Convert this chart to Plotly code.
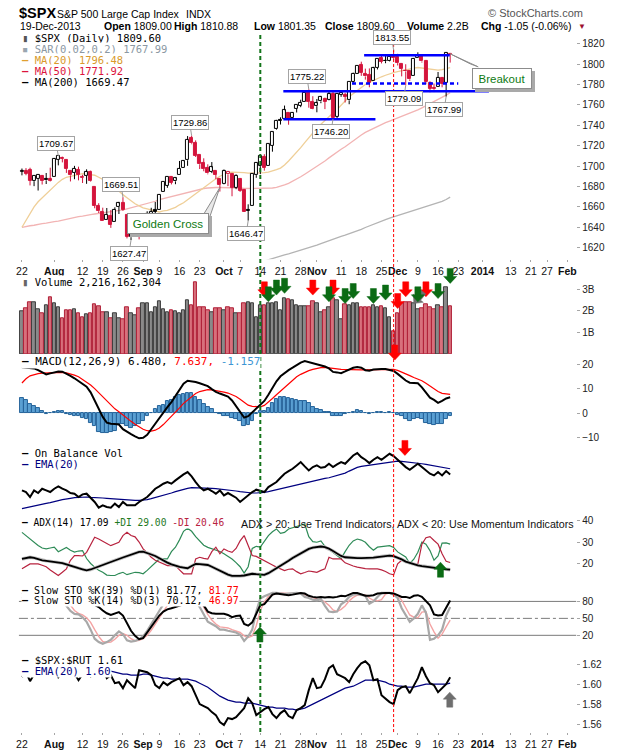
import math
import pandas as pd
import plotly.graph_objects as go

# ---------------------------------------------------------------------------
# Data ($SPX daily, 22-Jul-2013 .. 19-Dec-2013)
# ---------------------------------------------------------------------------
prev_close = 1692.1   # close of the day before the first bar

opens = [1694.4, 1695.5, 1696.1, 1685.2, 1687.3, 1690.3, 1687.3, 1687.8, 1689.4, 1706.1,
         1708.0, 1705.8, 1695.3, 1693.4, 1696.1, 1688.4, 1690.7, 1693.9, 1679.6, 1661.2,
         1655.3, 1646.8, 1650.7, 1645.0, 1659.9, 1664.3, 1652.5, 1630.3, 1633.5, 1638.9,
         1635.9, 1638.7, 1653.3, 1657.4, 1656.9, 1675.1, 1681.0, 1689.2, 1685.0, 1691.7,
         1697.7, 1705.7, 1727.3, 1722.4, 1711.4, 1702.6, 1698.0, 1694.1, 1695.5, 1687.3,
         1682.4, 1691.9, 1692.4, 1678.8, 1687.2, 1676.2, 1657.0, 1660.9, 1691.1, 1699.9,
         1709.2, 1700.5, 1720.2, 1736.7, 1745.2, 1746.5, 1752.3, 1747.5, 1756.0, 1759.4,
         1762.4, 1772.3, 1763.2, 1758.7, 1763.4, 1765.7, 1765.0, 1770.7, 1748.4, 1770.0,
         1769.5, 1764.4, 1782.8, 1790.7, 1798.8, 1790.8, 1789.6, 1783.5, 1796.2, 1806.3,
         1802.9, 1803.5, 1808.0, 1806.6, 1800.1, 1793.2, 1792.8, 1788.4, 1806.2, 1807.5,
         1802.8, 1781.7, 1777.0, 1777.5, 1786.5, 1781.5, 1809.0]
highs = [1697.6, 1698.0, 1698.4, 1690.9, 1691.9, 1690.9, 1693.2, 1698.4, 1707.9, 1709.7,
         1709.2, 1705.8, 1695.3, 1700.2, 1699.4, 1691.5, 1696.8, 1695.5, 1679.6, 1663.6,
         1659.2, 1658.9, 1656.9, 1659.6, 1664.9, 1669.5, 1652.5, 1641.2, 1646.4, 1640.1,
         1651.4, 1655.7, 1659.1, 1664.8, 1672.4, 1684.1, 1689.1, 1690.0, 1688.7, 1705.0,
         1705.5, 1729.4, 1729.9, 1725.2, 1711.4, 1707.6, 1701.7, 1703.9, 1695.5, 1687.3,
         1696.6, 1693.9, 1692.4, 1691.9, 1687.2, 1676.8, 1662.5, 1692.6, 1703.4, 1711.0,
         1711.6, 1721.8, 1733.4, 1745.3, 1747.8, 1759.3, 1752.3, 1753.0, 1759.8, 1765.0,
         1772.1, 1775.2, 1768.5, 1765.7, 1768.8, 1767.0, 1773.7, 1774.5, 1770.8, 1773.4,
         1771.8, 1782.0, 1791.5, 1798.2, 1802.3, 1795.5, 1795.7, 1797.2, 1804.8, 1808.1,
         1808.4, 1808.3, 1813.6, 1810.0, 1800.1, 1799.8, 1792.8, 1806.0, 1811.5, 1808.0,
         1803.0, 1783.0, 1780.9, 1792.2, 1786.8, 1811.1, 1810.9]
lows = [1690.9, 1691.0, 1681.0, 1680.3, 1676.0, 1681.9, 1682.4, 1684.9, 1689.4, 1700.7,
        1703.6, 1693.3, 1684.9, 1687.1, 1686.0, 1683.4, 1682.6, 1684.8, 1658.6, 1654.0,
        1646.1, 1646.8, 1639.4, 1645.0, 1653.0, 1656.0, 1629.1, 1627.5, 1630.9, 1628.1,
        1633.4, 1637.4, 1653.1, 1640.6, 1656.9, 1675.1, 1678.7, 1682.0, 1682.2, 1691.7,
        1697.7, 1700.2, 1721.4, 1708.9, 1697.1, 1694.9, 1691.9, 1693.1, 1687.1, 1675.0,
        1682.1, 1680.3, 1670.4, 1677.3, 1674.7, 1655.0, 1646.5, 1660.9, 1688.5, 1692.1,
        1695.5, 1700.5, 1714.1, 1735.7, 1740.7, 1746.5, 1740.5, 1745.5, 1752.5, 1757.7,
        1762.4, 1757.2, 1755.7, 1752.7, 1761.6, 1755.8, 1764.4, 1746.2, 1746.7, 1767.9,
        1762.3, 1760.6, 1780.2, 1790.7, 1788.4, 1784.7, 1777.2, 1783.5, 1794.7, 1800.6,
        1800.8, 1802.6, 1804.0, 1798.6, 1787.9, 1779.1, 1783.4, 1788.4, 1806.2, 1801.4,
        1780.1, 1772.3, 1772.5, 1777.5, 1777.2, 1768.0, 1801.4]
closes = [1695.5, 1692.4, 1685.9, 1690.3, 1691.7, 1685.3, 1686.0, 1685.7, 1706.9, 1709.7,
          1707.1, 1697.4, 1690.9, 1697.5, 1691.4, 1689.5, 1694.2, 1685.4, 1661.3, 1655.8,
          1646.1, 1652.4, 1642.8, 1657.0, 1663.5, 1656.8, 1630.5, 1635.0, 1638.2, 1633.0,
          1639.8, 1653.1, 1655.1, 1655.2, 1671.7, 1684.0, 1689.1, 1683.4, 1688.0, 1697.6,
          1704.8, 1725.5, 1722.3, 1709.9, 1701.8, 1697.4, 1692.8, 1698.7, 1691.8, 1681.6,
          1695.0, 1693.9, 1678.7, 1690.5, 1676.1, 1655.5, 1656.4, 1692.6, 1703.2, 1710.1,
          1698.1, 1721.5, 1733.2, 1744.5, 1744.7, 1754.7, 1746.4, 1752.1, 1759.8, 1762.1,
          1772.0, 1763.3, 1756.5, 1761.6, 1767.9, 1763.0, 1770.5, 1747.2, 1770.6, 1771.9,
          1767.7, 1782.0, 1790.6, 1798.2, 1791.5, 1787.9, 1781.4, 1795.9, 1804.8, 1802.5,
          1802.8, 1807.2, 1805.8, 1800.9, 1795.2, 1792.8, 1785.0, 1805.1, 1808.4, 1802.6,
          1782.2, 1775.5, 1775.3, 1786.5, 1781.0, 1810.7, 1809.6]

ma20 = [1640, 1647, 1654, 1660, 1665, 1669, 1673, 1677, 1681, 1684,
        1687, 1689, 1690, 1691, 1692, 1692.5, 1692, 1691.5, 1691, 1689,
        1687, 1684, 1682, 1679, 1675, 1672, 1669, 1666, 1663, 1661,
        1659, 1658, 1657, 1655.5, 1655, 1656, 1656.5, 1658, 1659.5, 1662,
        1664, 1667, 1670, 1673, 1676, 1679, 1682, 1685, 1687.5, 1690,
        1692, 1693.5, 1694, 1694, 1694, 1693.5, 1693, 1693, 1693, 1693,
        1693.5, 1694, 1695, 1696.5, 1698, 1701, 1705, 1709, 1713.5, 1718,
        1723, 1728, 1733, 1737, 1741, 1745, 1748.5, 1752, 1755.5, 1760,
        1764, 1768, 1771, 1774, 1777, 1780, 1782, 1784, 1786, 1787.5,
        1789, 1790.5, 1791.5, 1792.5, 1793.5, 1794, 1795, 1796, 1796.6, 1796,
        1795.5, 1795, 1794.5, 1794, 1794.5, 1795.5, 1796.5]
ma50 = [1640, 1641, 1641.5, 1642, 1643, 1643.5, 1644, 1645, 1645.5, 1646,
        1647, 1648, 1649, 1650, 1650.5, 1651, 1652, 1652.5, 1653, 1653.5,
        1654, 1654.5, 1655, 1655.5, 1656, 1657, 1658, 1659, 1660, 1661,
        1662, 1663, 1664, 1665.5, 1667, 1668, 1669, 1670, 1671, 1672,
        1673, 1674.5, 1675.5, 1676.5, 1677, 1678, 1678.5, 1679, 1679, 1679,
        1679, 1679, 1679, 1679, 1678.5, 1678, 1678, 1678, 1678, 1678,
        1678, 1678, 1678.5, 1679, 1680, 1681.5, 1683, 1685, 1687, 1689.5,
        1692, 1694.5, 1697, 1699.5, 1702, 1705, 1708, 1711, 1714, 1716.5,
        1719, 1722, 1725, 1728, 1730.5, 1733, 1735, 1737, 1739, 1741,
        1742.5, 1744, 1745.5, 1747, 1748.5, 1750, 1751.5, 1753, 1755, 1757,
        1759, 1761, 1763, 1765, 1767, 1769.5, 1771.9]
# MA(200) is below the visible price range before mid-October
ma200 = [None] * 58 + [
        1604.5, 1605.8, 1607.1, 1608.4, 1609.7, 1611, 1612, 1613, 1614, 1615.2,
        1616.3, 1617.4, 1618.4, 1619.6, 1621, 1622.5, 1624, 1625.5, 1627, 1628.5,
        1629.8, 1631, 1632.2, 1633.5, 1635, 1636.5, 1638, 1639.8, 1641.5, 1643,
        1644.5, 1646, 1647.5, 1649, 1650.2, 1651.5, 1652.8, 1654, 1655.3, 1656.6,
        1657.8, 1659, 1660.2, 1661.4, 1662.6, 1663.8, 1665.4, 1667.2, 1669.5]

volume_b = [1.98, 2.10, 2.38, 2.40, 2.06, 1.87, 2.24, 2.61, 2.34, 2.18,
            1.64, 2.03, 2.03, 2.06, 1.87, 1.72, 1.83, 1.87, 2.29, 2.21,
            1.95, 1.95, 1.64, 1.87, 1.64, 1.60, 2.18, 1.90, 1.80, 2.10,
            2.34, 2.34, 1.95, 2.18, 2.44, 2.06, 1.95, 2.00, 1.98, 1.87,
            2.03, 2.49, 2.26, 3.33, 2.18, 2.18, 2.03, 1.95, 2.10, 2.10,
            2.00, 2.18, 2.10, 1.87, 1.87, 2.34, 2.41, 2.34, 1.72, 2.26,
            2.26, 2.34, 2.34, 2.41, 2.03, 2.56, 2.52, 2.46, 2.26, 2.21,
            2.21, 2.21, 2.44, 2.34, 1.95, 2.03, 2.15, 2.56, 2.49, 1.60,
            2.30, 2.26, 2.34, 2.34, 2.14, 2.14, 2.15, 2.23, 2.14, 2.21,
            2.10, 1.72, 1.03, 1.90, 2.34, 2.41, 2.38, 2.34, 2.06, 2.10,
            2.30, 2.15, 2.06, 2.26, 2.18, 3.10, 2.22]

macd = [18.7, 18.6, 18.5, 18.2, 17.5, 16.6, 15.8, 16.2, 16.7, 17.0,
        16.9, 16.2, 15.2, 14.2, 13.0, 12.0, 10.8, 8.5, 5.0, 1.5,
        -1.5, -3.8, -4.3, -4.4, -4.6, -6.5, -7.6, -8.5, -9.4, -10.2,
        -10.0, -8.8, -6.5, -4.2, -1.8, 0.5, 2.5, 4.5, 7.0, 9.8,
        12.0, 13.2, 13.0, 12.7, 12.2, 11.5, 11.0, 9.8, 8.7, 8.0,
        7.5, 6.8, 5.2, 3.0, 0.5, -1.8, -1.2, 0.3, 2.0, 3.3,
        5.0, 7.5, 10.5, 13.0, 15.0, 16.3, 17.5, 18.5, 19.6, 20.6,
        21.2, 20.8, 20.3, 19.8, 19.4, 19.0, 18.2, 16.8, 16.6, 16.3,
        17.0, 17.8, 18.5, 18.8, 18.5, 17.5, 17.3, 17.8, 18.0, 18.0,
        18.0, 17.6, 17.2, 16.0, 14.7, 13.3, 12.4, 12.3, 12.2, 10.5,
        8.5, 6.3, 5.4, 4.2, 5.0, 6.0, 6.48]
macd_signal = [12.3, 14.0, 15.2, 15.8, 16.1, 16.3, 16.4, 16.5, 16.6, 16.7,
               16.6, 16.4, 16.0, 15.5, 14.8, 13.8, 12.7, 11.5, 10.0, 8.3,
               6.6, 4.8, 3.2, 1.8, 0.6, -0.8, -2.2, -3.3, -4.5, -5.6,
               -6.5, -7.1, -7.3, -6.9, -6.0, -4.6, -3.0, -1.3, 0.4, 2.2,
               4.0, 5.4, 6.8, 8.0, 8.8, 9.3, 9.6, 9.5, 9.3, 8.9,
               8.6, 8.2, 7.6, 6.8, 5.7, 4.5, 3.3, 2.8, 2.7, 2.6,
               3.2, 4.5, 6.0, 7.5, 9.0, 10.5, 12.0, 13.5, 14.8, 15.8,
               16.6, 17.3, 17.8, 18.2, 18.5, 18.6, 18.5, 18.2, 18.0, 17.8,
               17.7, 17.6, 17.6, 17.6, 17.6, 17.6, 17.6, 17.6, 17.7, 17.8,
               17.9, 17.9, 17.8, 17.4, 16.8, 16.0, 15.3, 14.5, 14.0, 13.2,
               12.2, 11.0, 9.8, 8.8, 8.1, 7.8, 7.637]
macd_hist = [6.0, 5.3, 3.6, 3.0, 2.0, 0.7, -0.5, 0.0, 0.3, 0.8,
             0.8, -0.2, -0.7, -1.0, -1.3, -2.0, -2.5, -4.0, -5.3, -7.7,
             -7.9, -8.0, -7.7, -7.3, -4.5, -4.5, -5.2, -5.9, -5.2, -4.5,
             -3.2, -1.2, 0.1, 1.7, 3.0, 3.4, 4.8, 5.3, 6.7, 7.3,
             7.7, 8.0, 8.0, 6.7, 5.3, 3.7, 2.7, 1.6, 0.1, -0.5,
             -1.2, -1.2, -2.0, -2.4, -3.3, -5.3, -4.7, -3.3, -0.5, 0.7,
             0.8, 2.1, 4.1, 5.7, 6.4, 6.7, 6.0, 5.7, 5.3, 4.9,
             4.9, 4.0, 2.7, 1.6, 1.1, 0.3, 0.3, -1.0, -1.0, -1.0,
             -0.5, 0.1, 0.3, 1.1, 0.7, 0.0, -0.5, 0.1, 0.3, 0.3,
             0.0, 0.3, 0.0, -0.9, -1.2, -2.3, -3.2, -2.5, -1.9, -2.5,
             -3.9, -4.3, -4.9, -4.5, -4.3, -2.5, -1.157]

# On Balance Volume (no scale shown on the chart; billions, arbitrary offset)
obv = [7.6, 7.1, 5.6, 7.6, 6.8, 8.1, 7.6, 7.1, 8.1, 8.8,
       8.1, 7.6, 6.8, 6.6, 5.6, 6.4, 6.6, 5.4, 4.1, 2.4,
       3.1, 2.6, 2.4, 3.6, 2.6, 4.1, 3.1, 3.1, 3.1, 4.1,
       4.8, 5.6, 6.8, 8.1, 8.8, 9.6, 10.1, 9.6, 10.6, 11.6,
       12.4, 13.1, 11.8, 10.1, 8.6, 7.6, 8.1, 7.4, 6.6, 7.6,
       6.1, 6.8, 6.1, 5.4, 4.1, 5.1, 6.1, 7.1, 7.8, 7.4,
       7.1, 8.6, 9.4, 10.1, 11.4, 12.6, 13.4, 14.1, 15.1, 16.1,
       14.8, 13.6, 14.6, 15.1, 14.4, 14.6, 15.6, 14.6, 15.4, 16.1,
       15.6, 16.8, 18.1, 18.8, 17.6, 16.8, 15.8, 16.8, 17.6, 16.8,
       17.8, 18.6, 17.9, 16.8, 15.6, 14.6, 13.8, 14.8, 15.6, 14.6,
       13.6, 12.6, 12.1, 13.1, 12.1, 13.4, 12.4]
obv_ema = [2.1, 2.4, 2.6, 3.0, 3.2, 3.4, 3.7, 3.9, 4.1, 4.5,
           4.8, 5.1, 5.2, 5.4, 5.5, 5.6, 5.6, 5.5, 5.5, 5.4,
           5.3, 5.2, 5.1, 4.9, 4.8, 4.7, 4.6, 4.6, 4.6, 4.6,
           4.6, 4.8, 5.1, 5.4, 5.7, 6.0, 6.4, 6.8, 7.2, 7.6,
           7.9, 8.2, 8.4, 8.4, 8.4, 8.4, 8.3, 8.2, 8.1, 8.0,
           7.9, 7.7, 7.6, 7.4, 7.2, 7.0, 6.8, 6.8, 6.8, 6.8,
           7.0, 7.2, 7.5, 7.7, 8.0, 8.3, 8.6, 8.8, 9.1, 9.4,
           9.7, 10.0, 10.3, 10.6, 10.9, 11.2, 11.4, 11.7, 12.0, 12.4,
           12.8, 13.4, 14.0, 14.5, 14.8, 15.0, 15.2, 15.3, 15.4, 15.6,
           15.8, 16.1, 16.3, 16.4, 16.3, 16.2, 16.1, 16.0, 15.8, 15.6,
           15.4, 15.2, 15.0, 14.8, 14.6, 14.3, 14.1]

adx = [22.1, 22.6, 22.9, 22.6, 22.0, 21.4, 21.2, 21.0, 20.8, 20.6,
       20.2, 19.6, 18.9, 18.3, 17.8, 17.3, 16.8, 17.2, 18.0, 18.8,
       19.3, 20.0, 20.8, 21.4, 22.1, 22.8, 23.5, 24.3, 24.9, 25.4,
       25.5, 25.0, 24.2, 23.5, 22.4, 21.3, 20.4, 19.6, 18.9, 18.4,
       18.1, 17.8, 18.8, 19.8, 19.7, 19.5, 19.3, 18.5, 17.5, 16.5,
       15.6, 14.8, 14.2, 14.1, 14.2, 14.4, 14.8, 15.2, 15.0, 14.8,
       14.7, 15.5, 16.6, 17.6, 18.8, 20.0, 21.3, 22.6, 23.7, 24.8,
       25.8, 26.8, 27.4, 27.8, 27.9, 27.6, 26.9, 25.8, 24.6, 23.5,
       22.9, 22.7, 22.6, 22.5, 22.5, 22.5, 22.5, 22.7, 23.0, 23.3,
       23.6, 23.7, 23.4, 22.8, 21.9, 20.9, 20.2, 19.6, 19.1, 18.8,
       18.5, 18.3, 18.1, 17.9, 17.6, 17.3, 17.09]
plus_di = [34.5, 33.0, 31.5, 29.6, 28.4, 27.2, 26.8, 27.2, 27.6, 25.5,
           26.4, 27.5, 26.2, 25.3, 25.8, 26.0, 22.3, 20.0, 18.3, 16.8,
           15.9, 14.6, 14.4, 14.4, 15.3, 15.9, 14.8, 15.2, 15.9, 15.7,
           15.2, 16.8, 18.5, 20.6, 22.1, 22.1, 22.1, 25.5, 27.6, 31.0,
           35.0, 36.4, 35.0, 32.5, 30.4, 28.5, 27.5, 26.8, 26.2, 25.6,
           24.5, 23.3, 22.1, 20.4, 18.5, 15.5, 18.5, 27.0, 28.0, 27.6,
           30.5, 33.0, 34.8, 36.1, 34.0, 34.5, 36.1, 36.6, 37.2, 37.7,
           38.4, 32.5, 30.2, 29.9, 30.5, 28.0, 26.6, 25.2, 23.8, 22.3,
           25.5, 28.5, 30.5, 31.4, 30.9, 29.9, 27.8, 26.2, 27.6, 27.9,
           28.2, 28.3, 27.5, 25.4, 24.2, 23.0, 20.0, 22.0, 25.2, 30.0,
           29.0, 26.0, 21.5, 23.5, 29.5, 29.6, 29.0]
minus_di = [17.5, 18.6, 19.8, 19.8, 19.8, 19.2, 18.5, 17.0, 15.5, 14.4,
            15.9, 17.5, 21.5, 23.7, 23.7, 23.5, 25.2, 29.0, 32.2, 31.4,
            30.2, 29.3, 28.3, 29.0, 29.9, 33.0, 34.5, 33.0, 32.4, 30.0,
            26.8, 25.0, 22.9, 21.5, 20.6, 19.8, 19.0, 19.0, 19.0, 17.0,
            15.2, 15.2, 15.2, 22.1, 22.9, 22.4, 22.1, 25.5, 27.6, 24.5,
            26.8, 25.8, 25.2, 27.0, 30.5, 33.0, 28.3, 23.7, 23.3, 22.2,
            21.2, 20.3, 19.3, 18.3, 17.5, 16.7, 17.3, 17.5, 16.2, 15.2,
            15.8, 16.5, 16.2, 15.9, 16.8, 17.5, 22.9, 22.1, 22.1, 22.1,
            20.3, 19.5, 18.8, 18.3, 17.9, 17.6, 17.5, 17.5, 17.5, 17.0,
            16.3, 15.2, 14.7, 19.8, 21.5, 21.0, 20.3, 19.8, 19.8, 29.0,
            32.0, 32.5, 30.7, 29.0, 24.5, 21.0, 20.46]

sto39_k = [95, 94, 90, 88, 86, 84, 85, 88, 93, 96,
           95, 92, 88, 87, 86, 85, 82, 78, 74, 70,
           64, 59, 56, 58, 61, 55, 42, 28, 19, 13,
           15, 25, 33, 43, 55, 62, 66, 68, 70, 72,
           75, 80, 82, 80, 77, 73, 62, 59, 58, 58,
           58, 56, 52, 54, 55, 40, 37, 43, 58, 73,
           75, 84, 92, 94, 93, 93, 91, 92, 94, 95,
           94, 90, 88, 87, 88, 87, 88, 87, 88, 90,
           89, 92, 95, 95, 92, 90, 90, 91, 94, 95,
           95, 95, 94, 91, 88, 88, 86, 90, 91, 88,
           80, 73, 57, 55, 56, 70, 81.77]
sto14_k = [85, 88, 80, 76, 78, 80, 82, 80, 90, 92,
           84, 72, 63, 58, 57, 52, 44, 30, 14, 8,
           5, 8, 12, 20, 27, 22, 11, 9, 10, 13,
           18, 28, 40, 52, 65, 75, 80, 84, 86, 88,
           92, 93, 90, 82, 70, 58, 44, 40, 36, 30,
           30, 28, 26, 25, 21, 10, 18, 30, 62, 85,
           89, 92, 95, 95, 94, 93, 94, 95, 95, 94,
           88, 86, 83, 82, 84, 72, 62, 61, 62, 75,
           80, 88, 92, 93, 92, 90, 76, 80, 88, 95,
           95, 95, 92, 86, 68, 55, 44, 50, 58, 73,
           60, 12, 14, 20, 30, 55, 70.12]
sto14_d = [82, 84, 84, 81, 78, 78, 80, 81, 84, 87,
           89, 83, 73, 64, 59, 56, 51, 43, 30, 18,
           9, 7, 8, 13, 20, 23, 20, 14, 10, 11,
           14, 20, 29, 40, 52, 64, 73, 80, 83, 86,
           89, 91, 92, 88, 80, 70, 57, 47, 40, 35,
           34, 33, 30, 28, 25, 19, 16, 19, 37, 64,
           79, 89, 92, 94, 95, 94, 94, 94, 95, 95,
           92, 89, 86, 84, 83, 79, 73, 65, 62, 66,
           72, 81, 87, 91, 92, 92, 86, 82, 81, 83,
           93, 95, 94, 91, 82, 70, 56, 52, 51, 61,
           62, 40, 26, 15, 22, 35, 46.97]

spx_rut = [1.607, 1.612, 1.603, 1.610, 1.615, 1.613, 1.617, 1.612, 1.615, 1.607,
           1.612, 1.618, 1.614, 1.611, 1.604, 1.610, 1.613, 1.608, 1.616, 1.620,
           1.616, 1.606, 1.609, 1.601, 1.602, 1.596, 1.604, 1.600, 1.596, 1.614,
           1.613, 1.612, 1.609, 1.599, 1.596, 1.602, 1.599, 1.602, 1.604, 1.606,
           1.599, 1.602, 1.598, 1.589, 1.580, 1.578, 1.576, 1.572, 1.569, 1.562,
           1.559, 1.566, 1.565, 1.567, 1.572, 1.576, 1.586, 1.581, 1.569, 1.572,
           1.575, 1.577, 1.570, 1.566, 1.571, 1.574, 1.568, 1.566, 1.574, 1.576,
           1.579, 1.594, 1.606, 1.596, 1.597, 1.605, 1.616, 1.619, 1.610, 1.608,
           1.606, 1.602, 1.610, 1.616, 1.621, 1.623, 1.619, 1.604, 1.605, 1.589,
           1.585, 1.582, 1.580, 1.594, 1.597, 1.598, 1.591, 1.599, 1.606, 1.617,
           1.608, 1.601, 1.599, 1.592, 1.596, 1.600, 1.607]
spx_rut_ema = [1.618, 1.618, 1.617, 1.617, 1.617, 1.617, 1.617, 1.617, 1.617, 1.617,
               1.617, 1.617, 1.617, 1.617, 1.616, 1.616, 1.616, 1.616, 1.616, 1.6155,
               1.615, 1.614, 1.613, 1.612, 1.611, 1.610, 1.610, 1.609, 1.609, 1.609,
               1.610, 1.610, 1.609, 1.608, 1.607, 1.606, 1.606, 1.605, 1.605, 1.605,
               1.605, 1.605, 1.604, 1.603, 1.601, 1.599, 1.597, 1.594, 1.591, 1.588,
               1.586, 1.584, 1.583, 1.582, 1.582, 1.581, 1.581, 1.581, 1.580, 1.579,
               1.578, 1.577, 1.577, 1.576, 1.576, 1.576, 1.575, 1.575, 1.574, 1.575,
               1.576, 1.578, 1.580, 1.582, 1.584, 1.586, 1.588, 1.590, 1.592, 1.594,
               1.596, 1.597, 1.598, 1.600, 1.602, 1.604, 1.604, 1.604, 1.604, 1.603,
               1.602, 1.600, 1.599, 1.598, 1.598, 1.597, 1.597, 1.597, 1.598, 1.599,
               1.600, 1.600, 1.600, 1.600, 1.600, 1.600, 1.601]

# x axis labels (first trading day of each labelled week / month)
tick_dates = ["2013-07-22", "2013-08-01", "2013-08-12", "2013-08-19", "2013-08-26",
              "2013-09-03", "2013-09-09", "2013-09-16", "2013-09-23", "2013-10-01",
              "2013-10-07", "2013-10-14", "2013-10-21", "2013-10-28", "2013-11-01",
              "2013-11-11", "2013-11-18", "2013-11-25", "2013-12-02", "2013-12-09",
              "2013-12-16", "2013-12-23", "2014-01-02", "2014-01-13", "2014-01-21",
              "2014-01-27", "2014-02-03"]
tick_labels = ["22", "<b>Aug</b>", "12", "19", "26", "<b>Sep</b>", "9", "16", "23",
               "<b>Oct</b>", "7", "14", "21", "28", "<b>Nov</b>", "11", "18", "25",
               "<b>Dec</b>", "9", "16", "23", "<b>2014</b>", "13", "21", "27", "<b>Feb</b>"]

# price call-outs: (date, value, above?)
price_notes = [("2013-08-02", 1709.67, True), ("2013-08-26", 1669.51, True),
               ("2013-08-28", 1627.47, False), ("2013-09-19", 1729.86, True),
               ("2013-10-09", 1646.47, False), ("2013-10-30", 1775.22, True),
               ("2013-11-07", 1746.20, False), ("2013-11-29", 1813.55, True),
               ("2013-12-04", 1779.09, False), ("2013-12-18", 1767.99, False)]

# ---------------------------------------------------------------------------
for name, arr in [("opens", opens), ("highs", highs), ("lows", lows), ("ma20", ma20),
                  ("ma50", ma50), ("ma200", ma200), ("volume", volume_b), ("macd", macd),
                  ("signal", macd_signal), ("hist", macd_hist), ("obv", obv),
                  ("obv_ema", obv_ema), ("adx", adx), ("pdi", plus_di), ("mdi", minus_di),
                  ("sto39", sto39_k), ("sto14k", sto14_k), ("sto14d", sto14_d),
                  ("ratio", spx_rut), ("ratio_ema", spx_rut_ema)]:
    if len(arr) != len(closes):
        raise ValueError(f"{name}: {len(arr)} != {len(closes)}")

# trading-day calendar used for the x axis (no weekend / holiday gaps)
days = pd.bdate_range("2013-07-22", "2014-02-07")
holidays = pd.to_datetime(["2013-09-02", "2013-11-28", "2013-12-25", "2014-01-01", "2014-01-20"])
days = days[~days.isin(holidays)]
day_pos = {d.strftime("%Y-%m-%d"): i for i, d in enumerate(days)}

n = len(closes)
xs = list(range(n))

W, H = 620, 750
X_RANGE = [-0.75, 137.2]
X_DOM = [16 / W, 576 / W]
MONO = "DejaVu Sans Mono"
SANS = "Liberation Sans, Arial"
RED = "#d4143c"
FRAME = "#a6a6a6"

# panel name, top px, bottom px, y range
panels = [("price", 32, 259, [1608.6, 1830.5]),
          ("vol", 274, 354, [0, 3.68]),
          ("macd", 354, 446, [-13.24, 24.05]),
          ("obv", 446, 516, [0, 21]),
          ("adx", 516, 584, [10.7, 42.3]),
          ("sto", 584, 653, [-10, 111.8]),
          ("ratio", 653, 733, [1.552, 1.632])]
pinfo = {p[0]: (("" if k == 0 else str(k + 1)),) + p[1:] for k, p in enumerate(panels)}


def axes_of(name):
    s = pinfo[name][0]
    return "x" + s, "y" + s


def paper_y(name, v):
    _, top, bottom, rng = pinfo[name]
    frac = (v - rng[0]) / (rng[1] - rng[0])
    return (1 - bottom / H) + frac * (bottom - top) / H


fig = go.Figure()


def add(trace, name):
    xa, ya = axes_of(name)
    trace.update(xaxis=xa, yaxis=ya)
    fig.add_trace(trace)


def line(y, name, color, width, z=1):
    add(go.Scatter(x=xs, y=y, mode="lines", line=dict(color=color, width=width),
                   hoverinfo="skip", zorder=z), name)


# ---- price panel ----------------------------------------------------------
line(ma200, "price", "#b4b4b4", 1.3, 0)
line(ma50, "price", "#f2b4b4", 1.3, 0)
line(ma20, "price", "#efcf98", 1.3, 0)

prev = [prev_close] + closes[:-1]
edge = ["#000000" if c >= p else RED for c, p in zip(closes, prev)]
fill = ["#ffffff" if c > o else e for o, c, e in zip(opens, closes, edge)]
for col in ["#000000", RED]:
    wx, wy = [], []
    for i in range(n):
        if edge[i] != col:
            continue
        top_b, bot_b = max(opens[i], closes[i]), min(opens[i], closes[i])
        wx += [i, i, None, i, i, None]
        wy += [bot_b, lows[i], None, top_b, highs[i], None]
    add(go.Scatter(x=wx, y=wy, mode="lines", line=dict(color=col, width=1),
                   hoverinfo="skip", zorder=2), "price")
add(go.Bar(x=xs, y=[max(abs(c - o), 0.4) for o, c in zip(opens, closes)],
           base=[min(o, c) for o, c in zip(opens, closes)], width=0.74,
           marker=dict(color=fill, line=dict(color=edge, width=1)),
           hoverinfo="skip", zorder=2), "price")

# ---- volume ---------------------------------------------------------------
vol_fill = ["#8a8a8a" if c >= p else "#d8707c" for c, p in zip(closes, prev)]
vol_edge = ["#3c3c3c" if c >= p else "#b02038" for c, p in zip(closes, prev)]
add(go.Bar(x=xs, y=volume_b, width=0.86, marker=dict(color=vol_fill, line=dict(color=vol_edge, width=1)),
           hoverinfo="skip"), "vol")

# ---- MACD -----------------------------------------------------------------
add(go.Bar(x=xs, y=macd_hist, width=0.86, marker=dict(color="#5a9fd2", line=dict(color="#25639a", width=1)),
           hoverinfo="skip"), "macd")
line(macd_signal, "macd", "#ff0000", 1.2)
line(macd, "macd", "#000000", 2)

# ---- OBV ------------------------------------------------------------------
line(obv_ema, "obv", "#000080", 1.2)
line(obv, "obv", "#000000", 2)

# ---- ADX ------------------------------------------------------------------
line(plus_di, "adx", "#2e8b57", 1.2)
line(minus_di, "adx", "#b8233f", 1.2)
line(adx, "adx", "#c4c4c4", 3.4)
line(adx, "adx", "#000000", 1.8)

# ---- Slow stochastics -----------------------------------------------------
line(sto14_d, "sto", "#f4a3a3", 1.4)
line(sto14_k, "sto", "#a8a8a8", 2.2)
line(sto39_k, "sto", "#000000", 2)

# ---- $SPX:$RUT ------------------------------------------------------------
line(spx_rut_ema, "ratio", "#000080", 1.2)
line(spx_rut, "ratio", "#000000", 2)

# ---- axes -----------------------------------------------------------------
tickvals = [day_pos[d] for d in tick_dates]
yticks = {"price": (list(range(1620, 1821, 20)), None),
          "vol": ([1, 2, 3], ["1B", "2B", "3B"]),
          "macd": ([-10, 0, 10, 20], None),
          "obv": ([], None),
          "adx": ([20, 30, 40], None),
          "sto": ([20, 50, 80], None),
          "ratio": ([1.56, 1.58, 1.60, 1.62], ["1.56", "1.58", "1.60", "1.62"])}
layout_axes = {}
for name, top, bottom, rng in panels:
    s = pinfo[name][0]
    labels = name in ("price", "ratio")
    layout_axes["xaxis" + s] = dict(
        range=X_RANGE, domain=X_DOM, anchor="y" + s, showgrid=False, zeroline=False,
        showline=True, mirror=True, linecolor=FRAME, linewidth=1,
        tickvals=tickvals, ticktext=tick_labels, showticklabels=labels, tickangle=0,
        ticks="outside" if labels else "", ticklen=2, tickcolor=FRAME,
        tickfont=dict(family=SANS, size=10.5, color="#111"),
        fixedrange=True, **({} if s == "" else {"matches": "x"}))
    tv, tt = yticks[name]
    layout_axes["yaxis" + s] = dict(
        range=rng, domain=[1 - bottom / H, 1 - top / H], anchor="x" + s, side="right",
        showgrid=False, zeroline=False, showline=True, mirror=True, linecolor=FRAME,
        linewidth=1, tickvals=tv, ticktext=tt, ticks="outside", ticklen=3, tickcolor=FRAME,
        tickfont=dict(family=SANS, size=10, color="#222"), fixedrange=True)

fig.update_layout(**layout_axes)

# ---- shapes: guides, support lines, arrows ---------------------------------
shapes = []
p14, p29 = day_pos["2013-10-14"], day_pos["2013-11-29"]
shapes.append(dict(type="line", xref="x", yref="paper", x0=p14, x1=p14,
                   y0=1 - 733 / H, y1=1 - 32 / H, layer="above",
                   line=dict(color="#13741a", width=2, dash="4px,3px")))
shapes.append(dict(type="line", xref="x", yref="paper", x0=p29, x1=p29,
                   y0=1 - 733 / H, y1=1 - 44 / H, layer="above",
                   line=dict(color="#ff0000", width=1, dash="3px,2px")))

for x0, x1, yv, dash in [(84.7, 105.9, 1808.7, "solid"), (81.7, 108, 1781.0, "4px,3px"),
                         (64.7, 115.6, 1773.2, "solid"), (64.7, 87.5, 1745.8, "solid")]:
    shapes.append(dict(type="line", xref="x", yref="y", x0=x0, x1=x1, y0=yv, y1=yv,
                       layer="above", line=dict(color="#0000ff", width=2.5, dash=dash)))

STO_LINES = [(80, "solid"), (50, "dashdot"), (20, "solid")]
for lv, dash in STO_LINES:
    xa, ya = axes_of("sto")
    shapes.append(dict(type="line", xref=xa + " domain", yref=ya, x0=0, x1=1, y0=lv, y1=lv,
                       layer="below", line=dict(color="#7a7a7a", width=1, dash=dash)))


def block_arrow(idx, panel, value, direction, color, rot=0):
    pts = [(-3, 15), (3, 15), (3, 7), (6.5, 7), (0, 0), (-6.5, 7), (-3, 7)]
    if direction == "up":
        pts = [(x, -y) for x, y in pts]
    if rot:
        a = math.radians(rot)
        pts = [(x * math.cos(a) - y * math.sin(a), x * math.sin(a) + y * math.cos(a)) for x, y in pts]
    path = "M" + " L".join(f"{x:.1f},{y:.1f}" for x, y in pts) + " Z"
    shapes.append(dict(type="path", xref="x", yref="paper", xsizemode="pixel", ysizemode="pixel",
                       xanchor=idx, yanchor=paper_y(panel, value), path=path, layer="above",
                       fillcolor=color, line=dict(color=color, width=0.5)))


RED_A, GREEN_A, GREY_A = "#ff0000", "#0b6b14", "#6e6e6e"
for i, v in [(60, 2.64), (72, 2.72), (77, 2.72), (93, 2.10), (95, 2.64), (100, 2.64)]:
    block_arrow(i, "vol", v, "down", RED_A)
block_arrow(97, "vol", 2.33, "down", GREY_A, rot=-40)
for i, v in [(61, 2.41), (63, 2.72), (65, 2.80), (76, 2.41), (80, 2.33), (82, 2.56),
             (87, 2.33), (90, 2.49), (98, 2.41), (103, 2.56), (106, 3.26)]:
    block_arrow(i, "vol", v, "down", GREEN_A)
block_arrow(92.3, "macd", 21.6, "down", RED_A)
block_arrow(94.8, "obv", 18.1, "down", RED_A)
block_arrow(103.6, "adx", 20.6, "up", GREEN_A)
block_arrow(58.9, "sto", 34.7, "up", GREEN_A)
block_arrow(105.9, "ratio", 1.592, "up", GREY_A)

# call-out wedges (pixel geometry anchored on the bar they point at)
shapes.append(dict(type="path", xref="x", yref="y", xsizemode="pixel", ysizemode="pixel",
                   xanchor=106, yanchor=1810.0, path="M0,0 L20,-10 L28,-13 Z", layer="above",
                   fillcolor="#e8e8e8", line=dict(color="#8c8c8c", width=1)))
shapes.append(dict(type="path", xref="x", yref="y", xsizemode="pixel", ysizemode="pixel",
                   xanchor=day_pos["2013-09-30"], yanchor=1679.0, path="M0,0 L-17,-28 L-10,-29 Z",
                   layer="above", fillcolor="#e8e8e8", line=dict(color="#8c8c8c", width=1)))

# ---- annotations ------------------------------------------------------------
ann = []


def text(t, xpx, ypx, size=10.5, family=MONO, color="#000", anchor="left", bg="white"):
    ann.append(dict(xref="paper", yref="paper", x=xpx / W, y=1 - ypx / H, text=t,
                    showarrow=False, xanchor=anchor, yanchor="middle", borderpad=0,
                    bgcolor=bg, font=dict(family=family, size=size, color=color)))


def dash(color):
    return f"<span style='color:{color}'><b>—</b></span>"


# header
text("<b>$SPX</b>", 15, 12, 14.5, SANS)
text("S&amp;P 500 Large Cap Index", 53, 13, 10.5, SANS)
text("INDX", 183, 13, 10.5, SANS)
text("© StockCharts.com", 584, 12, 11, SANS, "#555", "right")
text("19-Dec-2013", 16, 25, 10.5, SANS)
for t, xp in [("<b>Open</b> 1809.00", 100), ("<b>High</b> 1810.88", 171), ("<b>Low</b> 1801.35", 251),
              ("<b>Close</b> 1809.60", 323), ("<b>Volume</b> 2.2B", 405), ("<b>Chg</b> -1.05 (-0.06%)", 479)]:
    text(t, xp, 25, 10.5, SANS)
text("▼", 577, 26, 8, SANS, "#9c1030")

# price legend
text("<span style='color:#555'><b>▮</b></span> $SPX (Daily) 1809.60", 18, 37)
text("<span style='color:#9aa6b0'>▪</span> <span style='color:#8b98a3'>SAR(0.02,0.2) 1767.99</span>", 18, 48)
text(dash("#e0a030") + " <span style='color:#d99a2b'>MA(20) 1796.48</span>", 18, 59)
text(dash("#dc143c") + " <span style='color:#dc143c'>MA(50) 1771.92</span>", 18, 70)
text(dash("#000") + " MA(200) 1669.47", 18, 81)

# other panel legends
text("<span style='color:#666'><b>▮</b></span> Volume 2,216,162,304", 18, 282)
text(dash("#000") + " MACD(12,26,9) 6.480, <span style='color:#ff0000'>7.637,</span> "
     "<span style='color:#3d96d4'>-1.157</span>", 18, 361, 11)
text(dash("#000") + " On Balance Vol", 18, 453)
text(dash("#000080") + "<span style='color:#000080'> EMA(20)</span>", 18, 464)
text(dash("#000") + " ADX(14) 17.09 <span style='color:#1f7a1f'>+DI 29.00</span> "
     "<span style='color:#b8233f'>-DI 20.46</span>", 18, 523, 9.6)
text("ADX &gt; 20: Use Trend Indicators, ADX &lt; 20: Use Momentum Indicators", 575, 524,
     10.7, SANS, "#111", "right", "rgba(0,0,0,0)")
text(dash("#000") + " Slow STO %K(39) %D(1) 81.77, <span style='color:#ff0000'>81.77</span>", 18, 591, 10)
text(dash("#000") + " Slow STO %K(14) %D(3) 70.12, <span style='color:#ff0000'>46.97</span>", 18, 601, 10)
text(dash("#000") + " $SPX:$RUT 1.61", 18, 661)
text(dash("#000080") + "<span style='color:#000080'> EMA(20) 1.60</span>", 18, 672)

# price value call-outs
for d, v, above in price_notes:
    ann.append(dict(xref="x", yref="y", x=day_pos[d], y=v, text=f"{v:.2f}", showarrow=True,
                    arrowhead=0, arrowwidth=1, arrowcolor="#9a9a9a", ax=-2, ay=-13 if above else 13,
                    bgcolor="white", bordercolor="#a4a4a4", borderwidth=1, borderpad=1,
                    font=dict(family=SANS, size=9.5, color="#000")))

# Breakout / Golden Cross boxes (with drop shadow)
for label, cx, cy, w in [("Breakout", 501, 77.5, 54), ("Golden Cross", 166, 223, 76)]:
    for shadow in (True, False):
        off = 3 if shadow else 0
        ann.append(dict(xref="paper", yref="paper", x=(cx + off) / W, y=1 - (cy + off) / H,
                        xanchor="center", yanchor="middle",
                        text=" " if shadow else label, showarrow=False, width=w, height=15,
                        borderpad=2, bgcolor="#a9a9a9" if shadow else "white",
                        bordercolor="#a9a9a9" if shadow else "#8c8c8c", borderwidth=1,
                        font=dict(family=SANS, size=11.5, color="#0e7a12")))

fig.update_layout(
    width=W, height=H, margin=dict(l=0, r=0, t=0, b=0),
    paper_bgcolor="white", plot_bgcolor="white", showlegend=False,
    barmode="overlay", bargap=0, shapes=shapes, annotations=ann,
)

# drop the browser's default 8px body margin so the figure fills the window
fig.write_html("out.html", config={"displayModeBar": False},
               post_script="document.body.style.margin='0';")
